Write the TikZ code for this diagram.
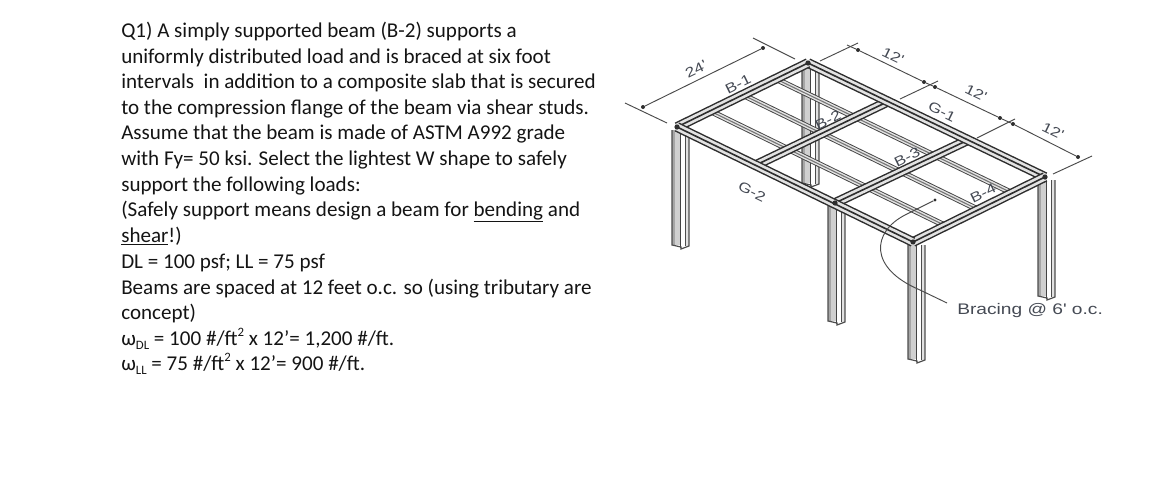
\documentclass[tikz,border=0pt]{standalone}
\usepackage{fontspec}
\setmainfont{Carlito}
\newfontfamily\labelfont[FakeStretch=1.25]{Liberation Sans}
\definecolor{inkdark}{HTML}{2E2E2E}
\definecolor{steelface}{HTML}{E2E2E2}
\definecolor{steelband}{HTML}{A6A6A6}
\definecolor{dimline}{HTML}{4A4A4A}
\definecolor{labelgrey}{HTML}{454A54}
\newcommand{\girder}[2]{%
  \draw[line width=7.4pt,inkdark] (#1) -- (#2);
  \draw[line width=5.2pt,steelface] (#1) -- (#2);
  \draw[line width=1.2pt,inkdark] (#1) -- (#2);}
\newcommand{\bracer}[2]{%
  \draw[line width=4.4pt,inkdark!90] (#1) -- (#2);
  \draw[line width=3.0pt,steelface] (#1) -- (#2);
  \draw[line width=0.8pt,steelband!70!black] (#1) -- (#2);}
% x of left edge, top y, bottom y
\newcommand{\steelcol}[3]{%
  \fill[white] (#1,#2) -- (#1+17,#2) -- (#1+17,#3-2) -- (#1+9,#3+1) -- (#1+9,#3-1) -- (#1,#3-3) -- cycle;
  \fill[steelband] (#1,#2) rectangle (#1+3,#3-3);
  \fill[steelface!70!steelband] (#1+3,#2) rectangle (#1+8,#3-3);
  \fill[inkdark!90] (#1+8,#2) rectangle (#1+9.4,#3);
  \fill[steelface] (#1+13.5,#2) rectangle (#1+16.5,#3-2);
  \draw[colline] (#1,#2) -- (#1,#3-3) -- (#1+9,#3-1) -- (#1+9,#3+1) -- (#1+17,#3-2) -- (#1+17,#2);
  \draw[colline,line width=.5pt] (#1+13.5,#2) -- (#1+13.5,#3-2);}
\newcommand{\supsc}[1]{\raisebox{0.42em}{\fontsize{9.6pt}{10pt}\selectfont #1}\relax}
\newcommand{\subsc}[1]{\raisebox{-0.2em}{\fontsize{9.6pt}{10pt}\selectfont #1}\relax}
\tikzset{
  x=0.75pt,y=-0.75pt,
  colline/.style={line width=.9pt,inkdark!85},
  para/.style={anchor=base west,inner sep=0pt,font=\fontsize{15.8pt}{18pt}\selectfont,text=black!92},
  dimrule/.style={line width=.7pt,dimline},
  dimdot/.style={circle,fill=inkdark,inner sep=0pt,minimum size=3pt},
  plan/.style={inner sep=0pt,font=\labelfont\fontsize{10.3pt}{12pt}\selectfont,text=labelgrey},
}
\begin{document}
\begin{tikzpicture}
\useasboundingbox (0,0) rectangle (1170,482);
% --- text ---
\node[para] (t1) at (121,37) {Q1) A simply supported beam (B-2) supports a};
\node[para] (t2) at (121,63) {uniformly distributed load and is braced at six foot};
\node[para] (t3) at (121,88) {intervals\ \ in addition to a composite slab that is secured};
\node[para] (t4) at (121,114) {to the compression flange of the beam via shear studs.};
\node[para] (t5) at (121,139) {Assume that the beam is made of ASTM A992 grade};
\node[para] (t6) at (121,165) {with Fy= 50 ksi. Select the lightest W shape to safely};
\node[para] (t7) at (121,191) {support the following loads:};
\node[para] (t8) at (121,216) {(Safely support means design a beam for \underline{bending} and};
\node[para] (t9) at (121,242) {\underline{shear}!)};
\node[para] (t10) at (121,268) {DL = 100 psf; LL = 75 psf};
\node[para] (t11) at (121,294) {Beams are spaced at 12 feet o.c. so (using tributary are};
\node[para] (t12) at (121,319) {concept)};
\node[para] (t13) at (121,345) {ω\subsc{DL} = 100 \#/ft\supsc{2} x 12’= 1,200 \#/ft.};
\node[para] (t14) at (121,370) {ω\subsc{LL} = 75 \#/ft\supsc{2} x 12’= 900 \#/ft.};
% --- frame corners ---
\coordinate (A) at (677,127);
\coordinate (B) at (808,63);
\coordinate (C) at (1045,177);
\coordinate (D) at (913,242);
\coordinate (F1) at (756,165);
\coordinate (F2) at (835,203);
\coordinate (K1) at (887,102);
\coordinate (K2) at (966,141);
\coordinate (E1) at (710,111);
\coordinate (E2) at (743,95);
\coordinate (E3) at (776,79);
\coordinate (H1) at (946,226);
\coordinate (H2) at (979,210);
\coordinate (H3) at (1012,193);
% --- far column, behind the floor ---
\steelcol{802}{66}{186}
% --- bracing ---
\bracer{E1}{H1}
\bracer{E2}{H2}
\bracer{E3}{H3}
% --- columns ---
\steelcol{672}{130}{248}
\steelcol{1038}{180}{299}
\steelcol{828}{206}{324}
\steelcol{908}{245}{362}
% --- girders and edge beams ---
\girder{F1}{K1}
\girder{F2}{K2}
\girder{B}{C}
\girder{A}{B}
\girder{D}{C}
\girder{A}{D}
\foreach \p in {A,B,C,D,F2} \fill[inkdark] (\p) circle (2.6);
% --- dimension 24 ---
\coordinate (x1) at (625,103); \coordinate (x2) at (667,123);
\coordinate (x3) at (753,38);  \coordinate (x4) at (795,59);
\draw[dimrule] (x1) -- (x2);
\draw[dimrule] (x3) -- (x4);
\node[dimdot] (d1) at (643,107) {};
\node[dimdot] (d2) at (763,48) {};
\draw[dimrule] (d1) -- (d2);
% --- dimensions 12 ---
\coordinate (y1) at (820,61);  \coordinate (y2) at (858,43);
\coordinate (y3) at (900,99);  \coordinate (y4) at (938,81);
\coordinate (y5) at (977,138); \coordinate (y6) at (1015,119);
\coordinate (y7) at (1053,174);\coordinate (y8) at (1092,156);
\draw[dimrule] (y1) -- (y2);
\draw[dimrule] (y3) -- (y4);
\draw[dimrule] (y5) -- (y6);
\draw[dimrule] (y7) -- (y8);
\node[dimdot] (e1) at (858,50) {};
\node[dimdot] (e2) at (924,82) {};
\node[dimdot] (e3) at (935,87) {};
\node[dimdot] (e4) at (1000,118) {};
\node[dimdot] (e5) at (1013,124) {};
\node[dimdot] (e6) at (1078,157) {};
\coordinate (dstart) at (847,45);
\draw[dimrule] (dstart) -- (e1) -- (e2) -- (e3) -- (e4) -- (e5) -- (e6);
% --- bracing leader ---
\node[dimdot,minimum size=2.4pt] (lead) at (935,200) {};
\coordinate (leadend) at (947,303);
\draw[dimrule] (lead) -- (905,215) .. controls (872,232) and (868,268) .. (920,290) -- (leadend);
% --- labels ---
\node[plan,rotate=26] (l24) at (696,69) {24'};
\node[plan,rotate=26] (lb1) at (738,84) {B-1};
\node[plan,rotate=26] (lb2) at (828,120) {B-2};
\node[plan,rotate=26] (lb3) at (907,157) {B-3};
\node[plan,rotate=26] (lb4) at (983,193) {B-4};
\node[plan,rotate=-26] (lg1) at (942,112) {G-1};
\node[plan,rotate=-26] (lg2) at (752,192) {G-2};
\node[plan,rotate=-26] (l121) at (893,56) {12'};
\node[plan,rotate=-26] (l122) at (976,93) {12'};
\node[plan,rotate=-26] (l123) at (1053,131) {12'};
\node[plan,anchor=base west,font=\labelfont\fontsize{11.5pt}{13pt}\selectfont] (lbr) at (957,314) {Bracing @ 6' o.c.};
\end{tikzpicture}
\end{document}
